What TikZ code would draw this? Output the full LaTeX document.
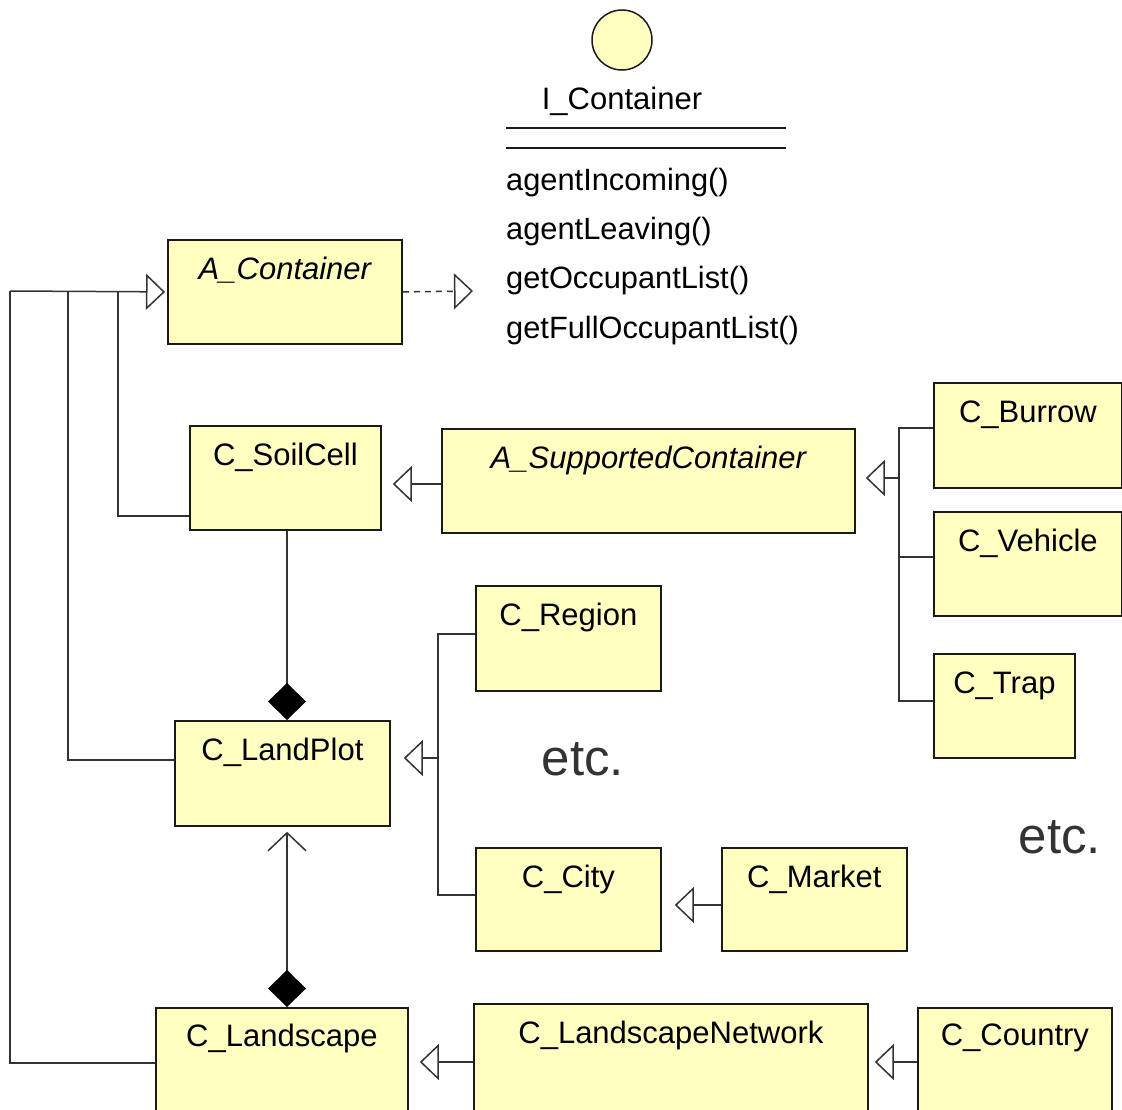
\documentclass[tikz,border=0pt]{standalone}
\usepackage{fontspec}
\setmainfont{Liberation Sans}
\usetikzlibrary{arrows.meta}
\definecolor{yfill}{HTML}{FFFFC0}
\definecolor{bord}{HTML}{1A1A1A}
\definecolor{conncol}{HTML}{333333}
\definecolor{etcgray}{HTML}{333333}
\begin{document}
\begin{tikzpicture}[x=1pt,y=-1pt,
  cls/.style={draw=bord, line width=1.8pt, fill=yfill, anchor=north west, inner sep=0pt},
  lbl/.style={font=\fontsize{31}{36}\selectfont, text=black, anchor=base, yshift=-40pt, inner sep=0pt},
  conn/.style={draw=conncol, line width=1.5pt},
  gen/.style={conn, -{Triangle[open, length=19pt, width=36pt]}},
  compo/.style={conn, {Diamond[length=37pt, width=38pt, color=black]}-},
  meth/.style={font=\fontsize{30.8}{36}\selectfont, anchor=base west, inner sep=0pt},
  etcstyle/.style={font=\fontsize{51}{60}\selectfont, text=etcgray, anchor=base, inner sep=0pt}
]
\useasboundingbox (0,0) rectangle (1122,1109);
\clip (0,0) rectangle (1122,1109);

% interface
\node[circle, draw=bord, line width=1.5pt, fill=yfill, minimum size=60pt, inner sep=0pt] (icirc) at (622,40) {};
\node[font=\fontsize{31}{36}\selectfont, anchor=base, inner sep=0pt] (iname) at (622,109) {I\_Container};
\draw[bord, line width=1.5pt] (506,128) -- (786,128);
\draw[bord, line width=1.5pt] (506,148) -- (786,148);
\node[meth] (m1) at (506,190) {agentIncoming()};
\node[meth] (m2) at (506,239) {agentLeaving()};
\node[meth] (m3) at (506,288) {getOccupantList()};
\node[meth] (m4) at (506,338) {getFullOccupantList()};
\coordinate (ifc) at (473,291);

% classes
\node[cls, minimum width=234pt, minimum height=104pt, label={[lbl]north:\itshape A\_Container}] (ac) at (167,239) {};
\node[cls, minimum width=191pt, minimum height=104pt, label={[lbl]north:C\_SoilCell}] (soil) at (189,425) {};
\node[cls, minimum width=413pt, minimum height=104pt, label={[lbl]north:\itshape A\_SupportedContainer}] (asup) at (441,428) {};
\node[cls, minimum width=188pt, minimum height=105pt, label={[lbl]north:C\_Burrow}] (bur) at (933,382) {};
\node[cls, minimum width=188pt, minimum height=104pt, label={[lbl]north:C\_Vehicle}] (veh) at (933,511) {};
\node[cls, minimum width=141pt, minimum height=104pt, label={[lbl]north:C\_Trap}] (trap) at (933,653) {};
\node[cls, minimum width=185pt, minimum height=105pt, label={[lbl]north:C\_Region}] (reg) at (475,585) {};
\node[cls, minimum width=215pt, minimum height=105pt, label={[lbl]north:C\_LandPlot}] (lp) at (174,720) {};
\node[cls, minimum width=185pt, minimum height=103pt, label={[lbl]north:C\_City}] (city) at (475,847) {};
\node[cls, minimum width=185pt, minimum height=103pt, label={[lbl]north:C\_Market}] (mkt) at (721,847) {};
\node[cls, minimum width=252pt, minimum height=115pt, label={[lbl,yshift=1pt]north:C\_Landscape}] (ls) at (155,1007) {};
\node[cls, minimum width=394pt, minimum height=119pt, label={[lbl]north:C\_LandscapeNetwork}] (net) at (473,1003) {};
\node[cls, minimum width=194pt, minimum height=115pt, label={[lbl,yshift=2pt]north:C\_Country}] (cty) at (917,1007) {};

% etc labels
\node[etcstyle] (etc1) at (583,775) {etc.};
\node[etcstyle] (etc2) at (1060,853) {etc.};

% realization
\draw[conn, dash pattern=on 6pt off 5pt, -{Triangle[open, length=19pt, width=36pt]}] (ac.east) -- (ifc);

% generalizations to A_Container
\coordinate (bus0) at (10,291);
\coordinate (bus1) at (68,291);
\coordinate (bus2) at (118,291);
\draw[gen, shorten >=2pt] (bus0) -- (ac.west);
\draw[conn] (soil.west |- 0,516) -| (bus2);
\draw[conn] (lp.west |- 0,760) -| (bus1);
\draw[conn] (ls.west |- 0,1063) -| (bus0);

% A_SupportedContainer -> C_SoilCell
\draw[gen, shorten >=11pt] (asup.west |- 0,484) -- (soil.east |- 0,484);

% subclasses of A_SupportedContainer
\coordinate (jS) at (899,478);
\draw[gen, shorten >=10pt] (jS) -- (asup.east |- jS);
\draw[conn] (bur.west |- 0,428) -| (jS);
\draw[conn] (veh.west |- 0,557) -| (jS);
\draw[conn] (trap.west |- 0,701) -| (jS);

% subclasses of C_LandPlot
\coordinate (jL) at (438,758);
\draw[gen, shorten >=13pt] (jL) -- (lp.east |- jL);
\draw[conn] (reg.west |- 0,634) -| (jL);
\draw[conn] (city.west |- 0,895) -| (jL);

% other generalizations
\draw[gen, shorten >=13pt] (mkt.west |- 0,905) -- (city.east |- 0,905);
\draw[gen, shorten >=11pt] (net.west |- 0,1062) -- (ls.east |- 0,1062);
\draw[gen, shorten >=6pt] (cty.west |- 0,1062) -- (net.east |- 0,1062);

% compositions
\draw[compo] (lp.north -| 287,0) -- (soil.south -| 287,0);
\draw[conn, {Diamond[length=37pt, width=38pt, color=black]}-{Straight Barb[length=18pt, width=38pt]}, shorten >=5pt] (ls.north -| 287,0) -- (lp.south -| 287,0);
\end{tikzpicture}
\end{document}
